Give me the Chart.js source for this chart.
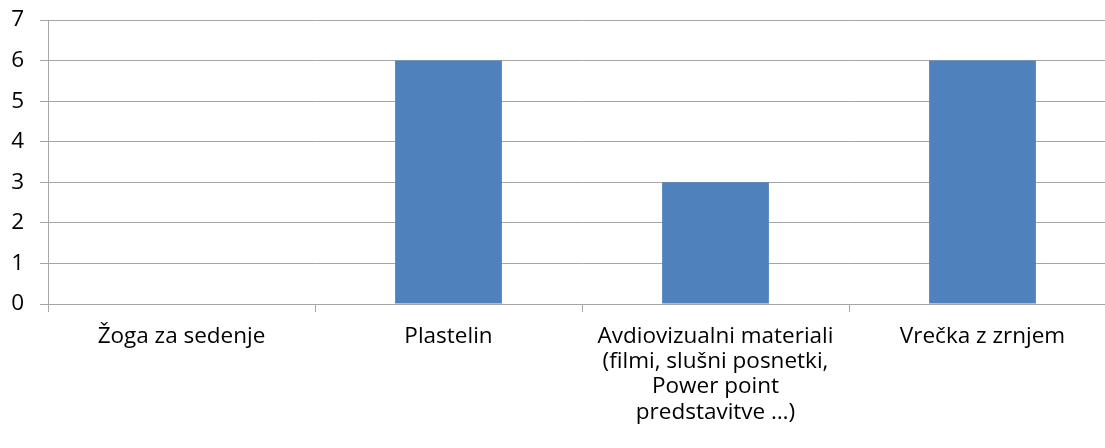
<!DOCTYPE html>
<html>
<head>
<meta charset="utf-8">
<script src="https://cdn.jsdelivr.net/npm/chart.js@4/dist/chart.umd.min.js"></script>
<style>
  html, body { margin: 0; padding: 0; background: #fff; overflow: hidden; }
  #wrap { width: 1120px; height: 448px; }
</style>
</head>
<body>
<div id="wrap"><canvas id="chart" width="1120" height="448"></canvas></div>
<script>
var categories = [
    "Žoga za sedenje",
    "Plastelin",
    ["Avdiovizualni materiali", "(filmi, slušni posnetki,", "Power point", "predstavitve …)"],
    "Vrečka z zrnjem"
];
var values = [0, 6, 3, 6];
var yMin = 0, yMax = 7, yStep = 1;

var gridColor = "#a6a6a6";
var fontFamily = "'Open Sans', sans-serif";

var ctx = document.getElementById("chart");
var chart = new Chart(ctx, {
    type: 'bar',
    data: {
        labels: categories,
        datasets: [{
            data: values,
            backgroundColor: "#4f81bd",
            borderWidth: 0,
            categoryPercentage: 0.4,
            barPercentage: 1.0
        }]
    },
    options: {
        responsive: false,
        animation: false,
        layout: { padding: { top: 20, right: 4, left: 0, bottom: 0 } },
        plugins: {
            legend: { display: false },
            tooltip: { enabled: false }
        },
        scales: {
            x: {
                offset: true,
                grid: {
                    offset: true,
                    drawOnChartArea: false,
                    drawTicks: true,
                    tickLength: 8,
                    color: gridColor,
                    lineWidth: 1
                },
                border: { color: gridColor, width: 1 },
                ticks: {
                    color: "#000",
                    padding: 12,
                    maxRotation: 0,
                    autoSkip: false,
                    font: { family: fontFamily, size: 22.5, lineHeight: 1.12 }
                },
                afterFit: function (scale) {
                    scale.height = 144;
                    scale.paddingLeft = 0;
                    scale.paddingRight = 0;
                }
            },
            y: {
                min: yMin,
                max: yMax,
                ticks: {
                    stepSize: yStep,
                    color: "#000",
                    padding: 16,
                    font: { family: fontFamily, size: 22.5 }
                },
                grid: {
                    color: gridColor,
                    lineWidth: 1,
                    tickLength: 8
                },
                border: { color: gridColor, width: 1 },
                afterFit: function (scale) {
                    scale.width = 48;
                    scale.paddingTop = 0;
                    scale.paddingBottom = 0;
                }
            }
        }
    }
});
</script>
</body>
</html>
